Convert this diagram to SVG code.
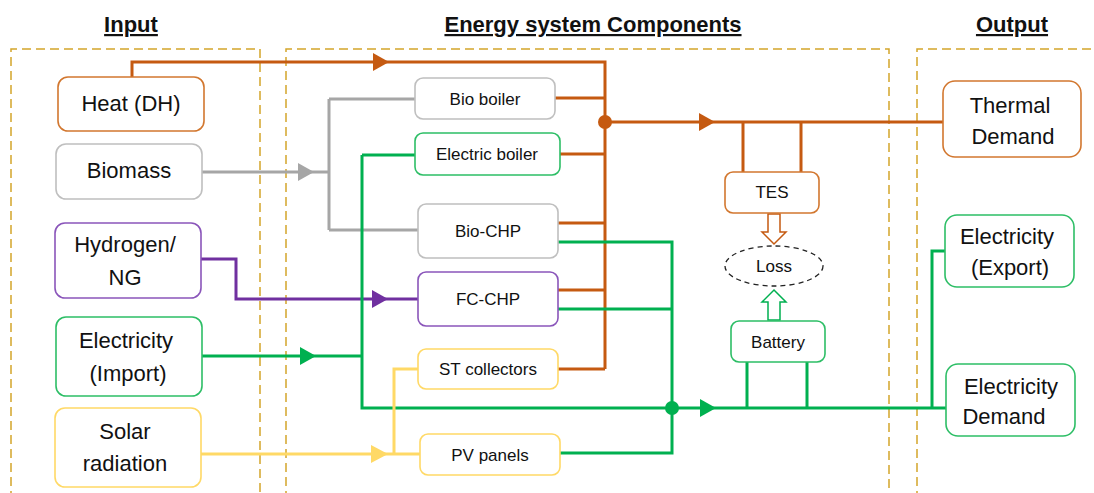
<svg xmlns="http://www.w3.org/2000/svg" width="1094" height="493" viewBox="0 0 1094 493">
<style>
text{font-family:"Liberation Sans",Arial,sans-serif;fill:#111;text-anchor:middle}
.title{font-size:22px;font-weight:bold;text-decoration:underline}
.big{font-size:22px}
.sm{font-size:17px}
.frame{fill:none;stroke:#D4A52A;stroke-width:1.5;stroke-dasharray:9 5}
.n{fill:#fff;stroke-width:1.6}
.or{stroke:#D2772F}.gy{stroke:#BFBFBF}.pu{stroke:#8A55BA}.gr{stroke:#2DBE66}.ye{stroke:#FFD966}
.l{fill:none;stroke-width:3}
.lo{stroke:#C55A11}.lg{stroke:#A6A6A6}.lp{stroke:#7030A0}.le{stroke:#00B050}.ly{stroke:#FFD966}
.ao{fill:#C55A11}.ag{fill:#A6A6A6}.ap{fill:#7030A0}.ae{fill:#00B050}.ay{fill:#FFD966}
</style>
<rect width="1094" height="493" fill="#fff"/>
<g id="frames">
<path class="frame" d="M11 500V49H260V500"/>
<path class="frame" d="M286 500V49H889V500"/>
<path class="frame" d="M917 500V49H1100"/>
<text class="title" x="131" y="32">Input</text>
<text class="title" x="593" y="32">Energy system Components</text>
<text class="title" x="1012" y="32">Output</text>
</g>
<g id="connectors">
<path class="l lo" d="M132 77V62H605V369"/>
<path class="l lo" d="M555 98H605M560 154H605M558 223H605M558 290H605M558 369H605"/>
<path class="l lo" d="M605 122H943M743 122V172M801 122V172"/>
<circle class="ao" cx="605" cy="122" r="7"/>
<polygon class="ao" points="373,53 389,62 373,71"/>
<polygon class="ao" points="699,113 715,122 699,131"/>
<path class="l lg" d="M202 172H329M329 99V230M329 99H415M329 230H418"/>
<polygon class="ag" points="298,163 314,172 298,181"/>
<path class="l lp" d="M201 259H236V299H418"/>
<polygon class="ap" points="372,290 388,299 372,308"/>
<path class="l le" d="M202 356H362M362 155V408H946M362 155H415"/>
<path class="l le" d="M558 242H672V453H560M558 309H672"/>
<path class="l le" d="M747 362V408M807 362V408M932 408V251H945"/>
<circle class="ae" cx="672" cy="408" r="7"/>
<polygon class="ae" points="300,347 316,356 300,365"/>
<polygon class="ae" points="700,399 716,408 700,417"/>
<path class="l ly" d="M201 454H420M394 454V369H418"/>
<polygon class="ay" points="371,445 388,454 371,463"/>
<path fill="#fff" stroke="#C55A11" stroke-width="1.5" d="M768 214V232H762L774 244L786 232H780V214Z"/>
<path fill="#fff" stroke="#00B050" stroke-width="1.5" d="M768 320V302H762L774 290L786 302H780V320Z"/>
</g>
<g id="heat"><rect class="n or" x="58" y="77" width="146" height="54" rx="10"/><text class="big" x="131" y="111">Heat (DH)</text></g>
<g id="biomass"><rect class="n gy" x="56" y="144" width="146" height="55" rx="10"/><text class="big" x="129" y="178">Biomass</text></g>
<g id="hydrogen"><rect class="n pu" x="55" y="223" width="146" height="75" rx="10"/><text class="big" x="125" y="252">Hydrogen/</text><text class="big" x="125" y="285">NG</text></g>
<g id="elec-import"><rect class="n gr" x="56" y="317" width="146" height="79" rx="10"/><text class="big" x="126" y="348">Electricity</text><text class="big" x="128" y="381">(Import)</text></g>
<g id="solar"><rect class="n ye" x="55" y="408" width="146" height="79" rx="10"/><text class="big" x="125" y="439">Solar</text><text class="big" x="125" y="471">radiation</text></g>
<g id="bio-boiler"><rect class="n gy" x="415" y="78" width="140" height="41" rx="8"/><text class="sm" x="485" y="105">Bio boiler</text></g>
<g id="elec-boiler"><rect class="n gr" x="415" y="133" width="145" height="42" rx="8"/><text class="sm" x="487" y="160">Electric boiler</text></g>
<g id="bio-chp"><rect class="n gy" x="418" y="204" width="140" height="54" rx="8"/><text class="sm" x="488" y="237">Bio-CHP</text></g>
<g id="fc-chp"><rect class="n pu" x="418" y="272" width="140" height="54" rx="8"/><text class="sm" x="488" y="305">FC-CHP</text></g>
<g id="st"><rect class="n ye" x="418" y="349" width="140" height="40" rx="8"/><text class="sm" x="488" y="375">ST collectors</text></g>
<g id="pv"><rect class="n ye" x="420" y="434" width="140" height="41" rx="8"/><text class="sm" x="490" y="461">PV panels</text></g>
<g id="tes"><rect class="n or" x="725" y="172" width="94" height="41" rx="8"/><text class="sm" x="772" y="198">TES</text></g>
<g id="loss"><ellipse cx="774" cy="266" rx="49" ry="20" fill="#fff" stroke="#222" stroke-width="1.3" stroke-dasharray="5 4"/><text class="sm" x="774" y="272">Loss</text></g>
<g id="battery"><rect class="n gr" x="731" y="321" width="94" height="41" rx="8"/><text class="sm" x="778" y="348">Battery</text></g>
<g id="thermal"><rect class="n or" x="943" y="81" width="138" height="76" rx="12"/><text class="big" x="1010" y="113">Thermal</text><text class="big" x="1013" y="144">Demand</text></g>
<g id="export"><rect class="n gr" x="945" y="215" width="129" height="72" rx="12"/><text class="big" x="1007" y="244">Electricity</text><text class="big" x="1010" y="275">(Export)</text></g>
<g id="demand"><rect class="n gr" x="946" y="364" width="129" height="72" rx="12"/><text class="big" x="1011" y="394">Electricity</text><text class="big" x="1004" y="424">Demand</text></g>
</svg>
